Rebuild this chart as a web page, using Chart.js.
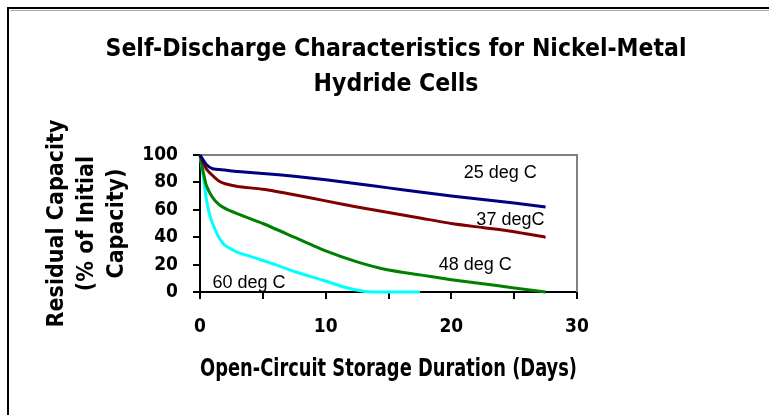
<!DOCTYPE html>
<html><head><meta charset="utf-8">
<script src="https://cdn.jsdelivr.net/npm/chart.js@4.4.1/dist/chart.umd.min.js"></script>
<style>html,body{margin:0;padding:0;background:#fff;overflow:hidden}#wrap{position:relative;width:769px;height:415px}</style>
</head><body><div id="wrap"><canvas id="c" width="769" height="415"></canvas></div>
<script>
// ---- data ----
const titleLines = ['Self-Discharge Characteristics for Nickel-Metal', 'Hydride Cells'];
const xTitle = 'Open-Circuit Storage Duration (Days)';
const yTitle = ['Residual Capacity', '(% of Initial', 'Capacity)'];
const seriesNames = ['25 deg C', '37 degC', '48 deg C', '60 deg C'];

const days25 = [0, 0.5, 1, 2, 3, 5, 7.5, 10, 12.5, 15, 17.5, 20, 22.5, 25, 27.5];
const cap25  = [100, 93, 90, 89, 88, 86.5, 84.5, 82, 79, 76, 73, 70, 67.5, 65, 62];

const days37 = [0, 0.5, 1, 1.5, 2, 3, 5, 7.5, 10, 12.5, 15, 17.5, 20, 22.5, 25, 27.5];
const cap37  = [100, 90, 85, 81, 79, 77, 75, 71, 66.5, 62, 58, 54, 50, 47, 44, 40];

const days48 = [0, 0.25, 0.5, 1, 1.5, 2, 3, 5, 7.5, 10, 12.5, 15, 17.5, 20, 22.5, 25, 27.5];
const cap48  = [100, 88, 78, 69, 64, 61, 57, 50, 40, 30, 22, 16, 12.5, 9, 6, 3, 0];

const days60 = [0, 0.25, 0.5, 0.75, 1, 1.5, 2, 3, 4, 5, 6, 7.5, 10, 11.5, 13, 14, 17.5];
const cap60  = [100, 85, 68, 57, 50, 40, 34, 29, 26, 23, 20, 15, 8, 3.5, 0.5, 0, 0];

// label anchors (data units)
const labelDays = [23.9, 24.7, 21.9, 3.9];
const labelCaps = [86.9, 52.6, 19.7, 6.6];

const xTickMarks = [0, 5, 10, 15, 20, 25, 30];
const xTicks = [0, 10, 20, 30];
const yTicks = [0, 20, 40, 60, 80, 100];

// ---- styling ----
const colors = ['#000080', '#800000', '#008000', '#00FFFF'];
const NARROW = "'Liberation Sans Narrow', 'Arial Narrow', 'DejaVu Sans Condensed', sans-serif";
const REG = "'Liberation Sans', Arial, sans-serif";

function pts(xs, ys) { return xs.map((x, i) => ({x: x, y: ys[i]})); }
const dataSets = [pts(days25, cap25), pts(days37, cap37), pts(days48, cap48), pts(days60, cap60)];

const decor = {
  id: 'decor',
  beforeDraw(chart) {
    const ctx = chart.ctx;
    ctx.save();
    ctx.fillStyle = '#fff';
    ctx.fillRect(0, 0, chart.width, chart.height);
    ctx.strokeStyle = '#000';
    ctx.lineWidth = 2;
    ctx.beginPath();
    ctx.moveTo(8, chart.height + 2); ctx.lineTo(8, 8); ctx.lineTo(chart.width + 2, 8);
    ctx.stroke();
    ctx.strokeStyle = '#aaa';
    ctx.lineWidth = 1;
    ctx.beginPath();
    ctx.moveTo(chart.width + 2, 10.5); ctx.lineTo(10.5, 10.5);
    ctx.stroke();
    // main title
    ctx.fillStyle = '#000';
    ctx.font = 'bold 24.5px ' + NARROW;
    ctx.textAlign = 'center';
    ctx.textBaseline = 'middle';
    ctx.fillText(titleLines[0], 396, 50);
    ctx.fillText(titleLines[1], 396, 85);
    ctx.restore();
  },
  beforeDatasetsDraw(chart) {
    const {ctx, chartArea: a} = chart;
    ctx.save();
    ctx.strokeStyle = '#808080';
    ctx.lineWidth = 2;
    ctx.beginPath();
    ctx.moveTo(a.left, a.top); ctx.lineTo(a.right, a.top); ctx.lineTo(a.right, a.bottom);
    ctx.stroke();
    ctx.restore();
  },
  afterDatasetsDraw(chart) {
    const ctx = chart.ctx;
    const xs = chart.scales.x, ys = chart.scales.y;
    ctx.save();
    ctx.fillStyle = '#000';
    ctx.font = '18px ' + REG;
    ctx.textAlign = 'center';
    ctx.textBaseline = 'middle';
    seriesNames.forEach((n, i) => {
      ctx.fillText(n, xs.getPixelForValue(labelDays[i]), ys.getPixelForValue(labelCaps[i]));
    });
    ctx.restore();
  }
};

new Chart(document.getElementById('c'), {
  type: 'scatter',
  data: {
    datasets: dataSets.map((d, i) => ({
      label: seriesNames[i],
      data: d,
      showLine: true,
      borderColor: colors[i],
      backgroundColor: colors[i],
      borderWidth: 3,
      pointRadius: 0,
      tension: 0.2,
      clip: 4
    }))
  },
  options: {
    responsive: false,
    animation: false,
    devicePixelRatio: 1,
    layout: { padding: { left: 42, top: 155, right: 192, bottom: 23 } },
    plugins: { legend: { display: false }, title: { display: false }, tooltip: { enabled: false } },
    scales: {
      x: {
        type: 'linear', min: 0, max: 30,
        afterFit: s => { s.height = 100; },
        afterBuildTicks: s => { s.ticks = xTickMarks.map(v => ({value: v})); },
        ticks: {
          autoSkip: false, maxRotation: 0, color: '#000', padding: 17,
          font: { family: NARROW, size: 19, weight: 'bold' },
          callback: v => (xTicks.includes(v) ? String(v) : '')
        },
        grid: { drawOnChartArea: false, drawTicks: true, tickLength: 7, color: '#000', lineWidth: 2 },
        border: { color: '#000', width: 2 },
        title: { display: true, text: xTitle, color: '#000', padding: { top: 0, bottom: 8 },
                 font: { family: NARROW, size: 24.5, weight: 'bold' } }
      },
      y: {
        type: 'linear', min: 0, max: 100,
        afterFit: s => { s.width = 158; },
        afterBuildTicks: s => { s.ticks = yTicks.map(v => ({value: v})); },
        ticks: { autoSkip: false, color: '#000', padding: 15, font: { family: NARROW, size: 19, weight: 'bold' } },
        grid: { drawOnChartArea: false, drawTicks: true, tickLength: 7, color: '#000', lineWidth: 2 },
        border: { color: '#000', width: 2 },
        title: { display: true, text: yTitle, color: '#000', padding: { top: 0, bottom: 0 },
                 font: { family: NARROW, size: 23, weight: 'bold', lineHeight: 1.3 } }
      }
    }
  },
  plugins: [decor]
});
</script></body></html>
